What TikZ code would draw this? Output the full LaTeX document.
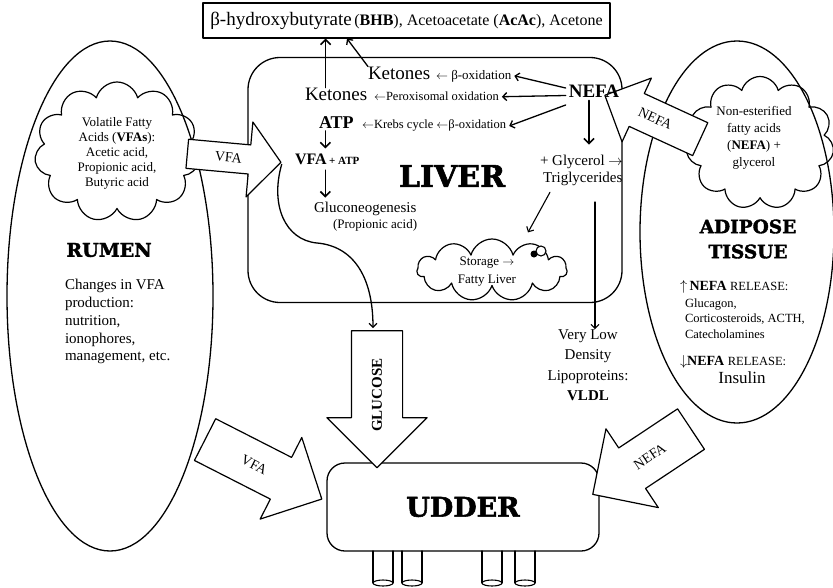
\documentclass[tikz,border=0pt]{standalone}
\usepackage{fontspec}
\setmainfont{Liberation Serif}
\newfontfamily\slabfont{DejaVu Serif}[BoldFeatures={FakeBold=2}]
\usetikzlibrary{shapes.geometric,shapes.symbols,shapes.arrows,arrows.meta,calc}
\newcommand{\fsz}[2]{\fontsize{#1}{#2}\selectfont}
\begin{document}
\begin{tikzpicture}[x=1pt, y=-1pt, line cap=round, line join=round,
    organ/.style={draw, line width=1.3pt, inner sep=0pt},
    puff/.style={cloud, draw, line width=1.2pt, cloud puffs=11, cloud ignores aspect, inner sep=0pt},
    flow/.style={single arrow, draw, fill=white, line width=1.2pt, inner xsep=0pt, single arrow tip angle=90},
    txt/.style={inner sep=0pt, outer sep=0pt},
    lnk/.style={line width=1.1pt, -{Straight Barb[length=4pt,width=8pt]}},
    blk/.style={line width=1.6pt, -{Straight Barb[length=5pt,width=10pt]}},
    slab/.style={font={\slabfont\bfseries\fontsize{#1}{25}\selectfont}}]
  \useasboundingbox (0,0) rectangle (833,587);
  % teats
  \foreach \tx in {383,412,492,525} {
    \draw[line width=1.1pt] (\tx-10,551) -- (\tx-10,583) (\tx+10,551) -- (\tx+10,583);
    \draw[line width=1.1pt] (\tx,583) ellipse (10pt and 3pt);
  }
  % organs
  \node[organ, ellipse, minimum width=206pt, minimum height=510pt] (rumen) at (110,296) {};
  \node[organ, ellipse, minimum width=194pt, minimum height=382pt] (adipose) at (737,232) {};
  \node[puff, minimum width=165pt, minimum height=140pt] (vfacloud) at (117,152) {};
  \node[puff, minimum width=148pt, minimum height=133pt] (nefacloud) at (760,143) {};
  \node[puff, minimum width=150pt, minimum height=62pt] (storage) at (492,270) {};
  \fill (534,254) circle (3.5pt);
  \draw[line width=1.1pt, fill=white] (541,251) circle (5pt);
  \node[organ, rounded corners=32pt, minimum width=374pt, minimum height=245pt] (liver) at (435,180) {};
  \node[organ, rounded corners=18pt, minimum width=272pt, minimum height=88pt, slab=27] (udder) at (463,507) {UDDER};
  \node[organ, line width=1.2pt, minimum width=407pt, minimum height=35pt] (top) at (406.5,20.5)
    {{\fsz{19}{22}β-hydroxybutyrate} {\fsz{16}{19}(\textbf{BHB}), Acetoacetate (\textbf{AcAc}), Acetone}};
  % block arrows
  \node[flow, rotate=-5.2, minimum height=94pt, inner ysep=14pt, single arrow head extend=23pt, single arrow tip angle=100] (vfain) at (228,157.5) {};
  \node[flow, rotate=-24.7, shape border rotate=180, minimum height=105pt, inner ysep=17.5pt, single arrow head extend=17pt] (nefain) at (660.75,121) {};
  \node[flow, rotate=90, shape border rotate=180, minimum height=137pt, inner ysep=25pt, single arrow head extend=24.5pt] (glucose) at (377,386.5) {};
  \node[flow, rotate=-27, minimum height=131pt, inner ysep=22.8pt, single arrow head extend=22.4pt] (vfaout) at (253,464) {};
  \node[flow, rotate=33.6, shape border rotate=180, minimum height=118pt, inner ysep=23.7pt, single arrow head extend=23pt] (nefaout) at (652,455) {};
  \node[txt, rotate=-5.2, font=\fsz{14}{16}] (vfainlbl) at ($(vfain.tail)!0.44!(vfain.tip)$) {VFA};
  \node[txt, rotate=-24.7, font=\fsz{14}{16}] (nefainlbl) at ($(nefain.tail)!0.47!(nefain.tip)$) {NEFA};
  \node[txt, rotate=90, font=\bfseries\fsz{15}{17}] (glucoselbl) at ($(glucose.tail)!0.47!(glucose.tip)$) {GLUCOSE};
  \node[txt, rotate=-27, font=\fsz{14}{16}] (vfaoutlbl) at ($(vfaout.tail)!0.42!(vfaout.tip)$) {VFA};
  \node[txt, rotate=33.6, font=\fsz{14}{16}] (nefaoutlbl) at ($(nefaout.tail)!0.42!(nefaout.tip)$) {NEFA};
  % rumen
  \node[txt, align=center, font=\fsz{13}{15}] (vfatext) at (117,153)
    {Volatile Fatty\\Acids (\textbf{VFAs}):\\Acetic acid,\\Propionic acid,\\Butyric acid};
  \node[txt, slab=19] (rumenname) at (109,250) {RUMEN};
  \node[txt, align=left, anchor=north west, font=\fsz{15}{17.7}] (rumentext) at (65,279.5)
    {Changes in VFA\\production:\\nutrition,\\ionophores,\\management, etc.};
  % liver
  \node[txt, anchor=base west, font=\fsz{19}{21}] (ket1) at (368,79) {Ketones};
  \node[txt, anchor=base west, font=\fsz{13}{15}] (ox1) at (436,79) {$\leftarrow$ β-oxidation};
  \node[txt, anchor=base west, font=\fsz{19}{21}] (ket2) at (305,100) {Ketones};
  \node[txt, anchor=base west, font=\fsz{12.5}{15}] (ox2) at (374,100) {$\leftarrow$Peroxisomal oxidation};
  \node[txt, anchor=base west, font=\bfseries\fsz{18}{20}] (atp) at (319,128) {ATP};
  \node[txt, anchor=base west, font=\fsz{12.5}{15}] (krebs) at (362,128) {$\leftarrow$Krebs cycle $\leftarrow$β-oxidation};
  \node[txt, anchor=base west, font=\bfseries] (vfa) at (295,164) {{\fsz{16}{18}VFA} {\fsz{11}{13}+ ATP}};
  \node[txt, anchor=base west, font=\fsz{15}{17}] (gluc) at (314,212) {Gluconeogenesis};
  \node[txt, anchor=base west, font=\fsz{13}{15}] (prop) at (333,228) {(Propionic acid)};
  \node[txt, slab=30] (livername) at (452,176) {LIVER};
  \node[inner sep=3pt, font=\bfseries\fsz{19}{21}] (nefa) at (594,91) {NEFA};
  \node[txt, anchor=base west, font=\fsz{15}{17}] (glyc) at (540,165) {+ Glycerol $\rightarrow$};
  \node[txt, anchor=base west, font=\fsz{15}{17}] (trig) at (543,182) {Triglycerides};
  \node[txt, align=center, font=\fsz{13}{18}] (storagetext) at (487,272) {Storage $\rightarrow$\\Fatty Liver};
  \node[txt, align=center, font=\fsz{15}{20.5}] (vldl) at (588,365)
    {Very Low\\Density\\Lipoproteins:\\\textbf{VLDL}};
  % adipose
  \node[txt, align=center, font=\fsz{13}{17}] (nefatext) at (754,138)
    {Non-esterified\\fatty acids\\(\textbf{NEFA}) +\\glycerol};
  \node[txt, align=center, slab=18.5] (adiposename) at (748,239) {ADIPOSE\\TISSUE};
  \node[txt, anchor=base west, font=\fsz{14}{16}] (uprel) at (680,290)
    {$\uparrow$\,\textbf{NEFA} {\fsz{12.5}{15}RELEASE:}};
  \node[txt, align=left, anchor=north west, font=\fsz{12.5}{15.5}] (uplist) at (685,298.5)
    {Glucagon,\\Corticosteroids, ACTH,\\Catecholamines};
  \node[txt, anchor=base west, font=\fsz{14}{16}] (downrel) at (680,365)
    {$\downarrow$\textbf{NEFA} {\fsz{12.5}{15}RELEASE:}};
  \node[txt, anchor=base, font=\fsz{17}{19}] (insulin) at (742,383) {Insulin};
  % connectors
  \coordinate (vlstart) at (595,202);
  \draw[blk] ([xshift=-10.5pt]ket2.north) -- ([xshift=-10.5pt]ket2.north |- top.south);
  \draw[lnk, line width=1.3pt] (ket1.north west) -- ([xshift=-21pt]ket1.north west |- top.south);
  \draw[lnk, line width=1.3pt] ([yshift=3pt]nefa.west) -- ([xshift=3pt]ox1.east);
  \draw[lnk, line width=1.3pt] ([yshift=-4.5pt]nefa.west) -- ([xshift=3pt,yshift=-1pt]ox2.east);
  \draw[lnk, line width=1.3pt] ([yshift=-14pt]nefa.west) -- ([xshift=3pt,yshift=-1pt]krebs.east);
  \draw[blk] ([xshift=-5pt]nefa.south) -- ([xshift=-5pt,yshift=10pt]nefa.south |- glyc.north);
  \draw[blk, shorten <=3pt, shorten >=5pt] ([xshift=-11pt]atp.south) -- ([xshift=-11pt]atp.south |- vfa.north);
  \draw[blk, shorten <=6pt, shorten >=4pt] ([xshift=-11pt]atp.south |- vfa.south) -- ([xshift=-11pt]atp.south |- gluc.north);
  \draw[lnk] ([xshift=7pt,yshift=-7pt]trig.south west) -- ([xshift=36pt,yshift=6pt]storage.north);
  \draw[lnk] (vlstart) -- (vlstart |- vldl.north);
  \draw[lnk, line width=1.3pt] ([yshift=-2pt]vfain.tip) .. controls (270,205) and (285,240) .. (317,243)
    .. controls (352,246) and (373,275) .. ([xshift=-4pt,yshift=2pt]glucose.tail);
\end{tikzpicture}
\end{document}
